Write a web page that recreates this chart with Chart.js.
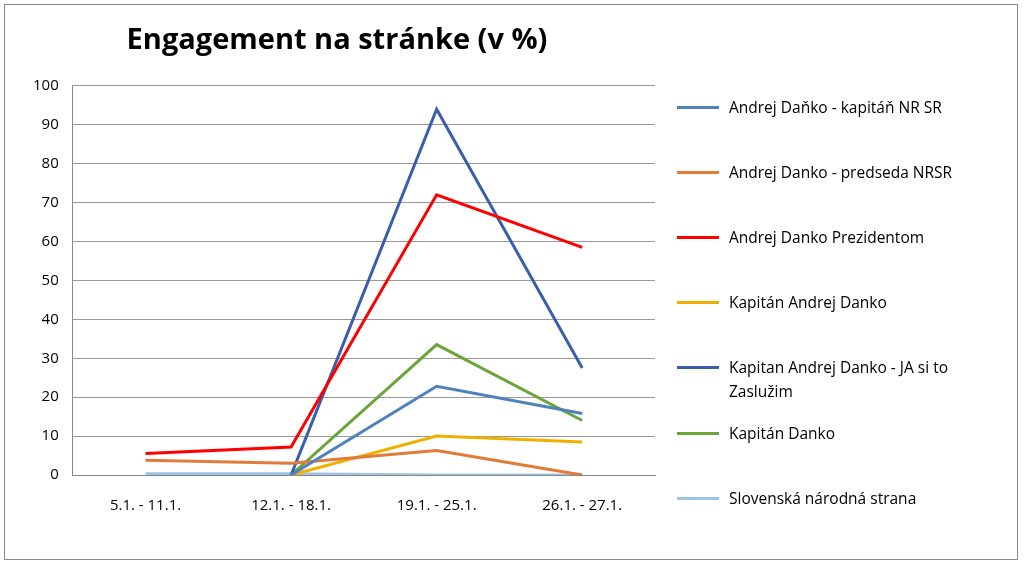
<!DOCTYPE html>
<html>
<head>
<meta charset="utf-8">
<script src="https://cdn.jsdelivr.net/npm/chart.js@4"></script>
<style>
  body { margin: 0; background: #fff; font-family: "Open Sans", sans-serif; }
  #wrap { position: absolute; left: 4px; top: 4px; width: 1014px; height: 556px; border: 1px solid #888; box-sizing: border-box; }
  #legend { position: absolute; left: 677px; top: 0; }
  .item { position: absolute; left: 0; width: 330px; font-size: 15.5px; line-height: 24px; color: #000; }
  .item span.sw { position: absolute; left: 0; top: 11px; width: 42px; height: 3px; }
  .item div { margin-left: 52px; }
</style>
</head>
<body>
<div id="wrap"><canvas id="myChart"></canvas></div>
<div id="legend"></div>
<script>
const labels = ["5.1. - 11.1.", "12.1. - 18.1.", "19.1. - 25.1.", "26.1. - 27.1."];

const kapitanNR = [null, 0, 22.8, 15.8];
const predseda = [3.8, 3.0, 6.3, 0];
const prezidentom = [5.5, 7.2, 72, 58.5];
const kapitanAD = [null, 0, 10, 8.5];
const zasluzim = [null, 0, 94, 27.5];
const kapitanDanko = [null, 0, 33.5, 14];
const sns = [0.3, 0.3, 0, 0];

const yTicks = [0, 10, 20, 30, 40, 50, 60, 70, 80, 90, 100];

function ds(label, data, color) {
  return { label: label, data: data, borderColor: color, backgroundColor: color, borderWidth: 3, pointRadius: 0, tension: 0 };
}

const data = {
  labels: labels,
  datasets: [
    ds("Andrej Daňko - kapitáň  NR SR", kapitanNR, "#4f81bd"),
    ds("Andrej Danko - predseda NRSR", predseda, "#e07b39"),
    ds("Andrej Danko Prezidentom", prezidentom, "#ff0000"),
    ds("Kapitán Andrej Danko", kapitanAD, "#f0b000"),
    ds("Kapitan Andrej Danko - JA si to Zaslužim", zasluzim, "#3a5eab"),
    ds("Kapitán Danko", kapitanDanko, "#6aa43a"),
    ds("Slovenská národná strana", sns, "#9dc3e6"),
  ],
};

// legend rows (y centres of the swatch)
const legendY = [107, 172, 237, 302, 367, 433, 498];
const leg = document.getElementById("legend");
data.datasets.forEach((d, i) => {
  const el = document.createElement("div");
  el.className = "item";
  el.style.top = (legendY[i] - 12) + "px";
  if (i === 4) el.style.width = "330px";
  el.innerHTML = '<span class="sw" style="background:' + d.borderColor + '"></span><div>' + d.label + "</div>";
  if (i === 4) el.querySelector("div").style.width = "255px";
  leg.appendChild(el);
});

const config = {
  type: "line",
  data: data,
  options: {
    responsive: false,
    animation: false,
    layout: { padding: { left: 14, right: 362, top: 0, bottom: 30 } },
    plugins: {
      title: { display: true, text: "Engagement na stránke (v %)", font: { family: "Open Sans", size: 29, weight: "bold" }, color: "#000", padding: { top: 18, bottom: 28 } },
      legend: { display: false },
    },
    scales: {
      x: { offset: true, grid: { display: false }, border: { color: "#888" }, ticks: { color: "#000", font: { family: "Open Sans", size: 15 }, padding: 14 } },
      y: {
        min: 0, max: 100,
        afterBuildTicks: (ax) => { ax.ticks = yTicks.map(v => ({ value: v })); },
        grid: { color: "#999", drawTicks: false }, border: { color: "#888" },
        ticks: { color: "#000", font: { family: "Open Sans", size: 15 }, padding: 14 },
      },
    },
  },
};

const cv = document.getElementById("myChart");
cv.width = 1012; cv.height = 554;
const lineChart = new Chart(cv, config);
</script>
</body>
</html>
